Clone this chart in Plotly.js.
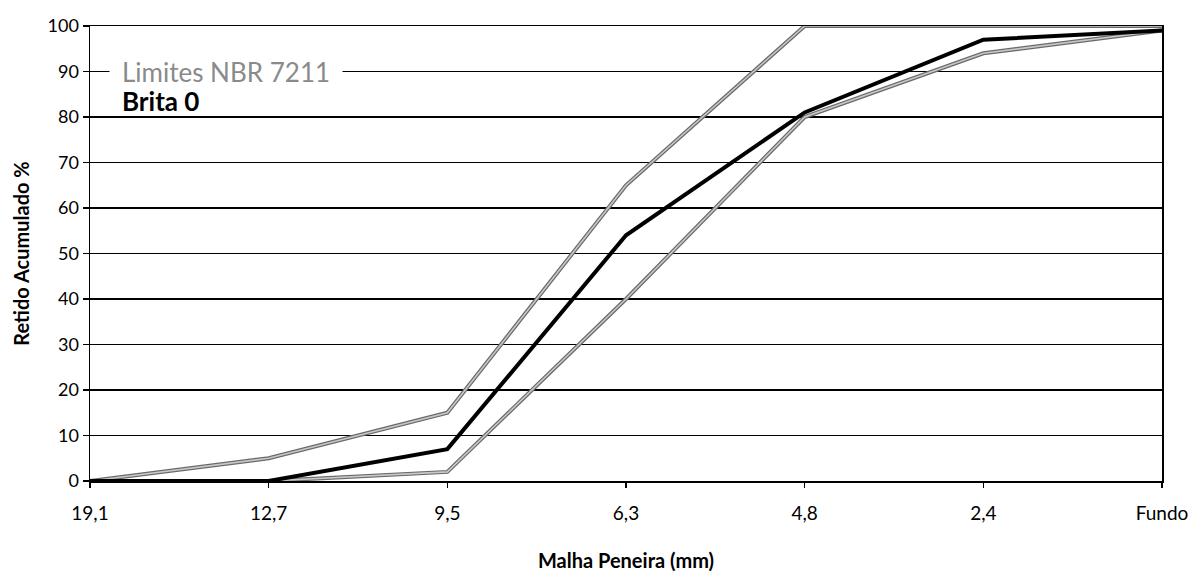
<!DOCTYPE html>
<html>
<head>
<meta charset="utf-8">
<script src="https://cdn.plot.ly/plotly-3.0.1.min.js"></script>
<style>html,body{margin:0;padding:0;background:#fff;}#chart{width:1194px;height:578px;}</style>
</head>
<body>
<div id="chart"></div>
<script>
// Sieve openings (mm)
var sieves = ["19,1", "12,7", "9,5", "6,3", "4,8", "2,4", "Fundo"];
// Cumulative retained (%)
var brita0 = [0, 0, 7, 54, 81, 97, 99];
var limiteInferior = [0, 0, 2, 40, 80, 94, 99];
var limiteSuperior = [0, 5, 15, 65, 100, 100, 100];
var yTicks = [0, 10, 20, 30, 40, 50, 60, 70, 80, 90, 100];

var FONT = "Lato, 'Open Sans', sans-serif";

function limitTraces(vals) {
  return [
    {x: sieves, y: vals, type: "scatter", mode: "lines", showlegend: false, hoverinfo: "skip",
     line: {color: "#6a6a6a", width: 4}},
    {x: sieves, y: vals, type: "scatter", mode: "lines", showlegend: false,
     line: {color: "#c8c8c8", width: 1.6}}
  ];
}

var data = [].concat(
  limitTraces(limiteSuperior),
  limitTraces(limiteInferior),
  [{x: sieves, y: brita0, type: "scatter", mode: "lines", name: "Brita 0", showlegend: false,
    line: {color: "#000000", width: 4}}]
);

var layout = {
  width: 1194, height: 578,
  paper_bgcolor: "#ffffff", plot_bgcolor: "#ffffff",
  margin: {l: 90, r: 32, t: 26, b: 97},
  showlegend: false,
  font: {family: FONT, color: "#000", size: 16},
  xaxis: {
    type: "category", categoryorder: "array", categoryarray: sieves,
    range: [0, sieves.length - 1],
    showgrid: false, zeroline: false,
    showline: true, linecolor: "#000", linewidth: 1.5, mirror: true,
    ticks: "outside", ticklen: 5, tickcolor: "#000", tickwidth: 1.2,
    ticklabelstandoff: 10,
    tickfont: {family: FONT, size: 19, color: "#000"},
    title: {text: "<b>Malha Peneira (mm)</b>", font: {family: FONT, size: 20, color: "#000"}, standoff: 30}
  },
  yaxis: {
    range: [0, 100], tickvals: yTicks,
    showgrid: true, gridcolor: "#000", gridwidth: 1.1,
    zeroline: false,
    showline: true, linecolor: "#000", linewidth: 1.5, mirror: true,
    ticks: "outside", ticklen: 6, tickcolor: "#000", tickwidth: 1.2,
    tickfont: {family: FONT, size: 18, color: "#000"},
    title: {text: "<b>Retido Acumulado %</b>", font: {family: FONT, size: 20, color: "#000"}, standoff: 12}
  },
  annotations: [
    {xref: "paper", yref: "y", x: 0.018, y: 90, xanchor: "left", yanchor: "middle",
     text: "Limites NBR 7211", showarrow: false, bgcolor: "#ffffff", borderpad: 12,
     font: {family: FONT, size: 26, color: "#8a8a8a"}},
    {xref: "paper", yref: "y", x: 0.029, y: 83.5, xanchor: "left", yanchor: "middle",
     text: "<b>Brita 0</b>", showarrow: false, bgcolor: "rgba(0,0,0,0)", borderpad: 0,
     font: {family: FONT, size: 26, color: "#000"}}
  ]
};

Plotly.newPlot("chart", data, layout, {displayModeBar: false, staticPlot: true});
</script>
</body>
</html>
